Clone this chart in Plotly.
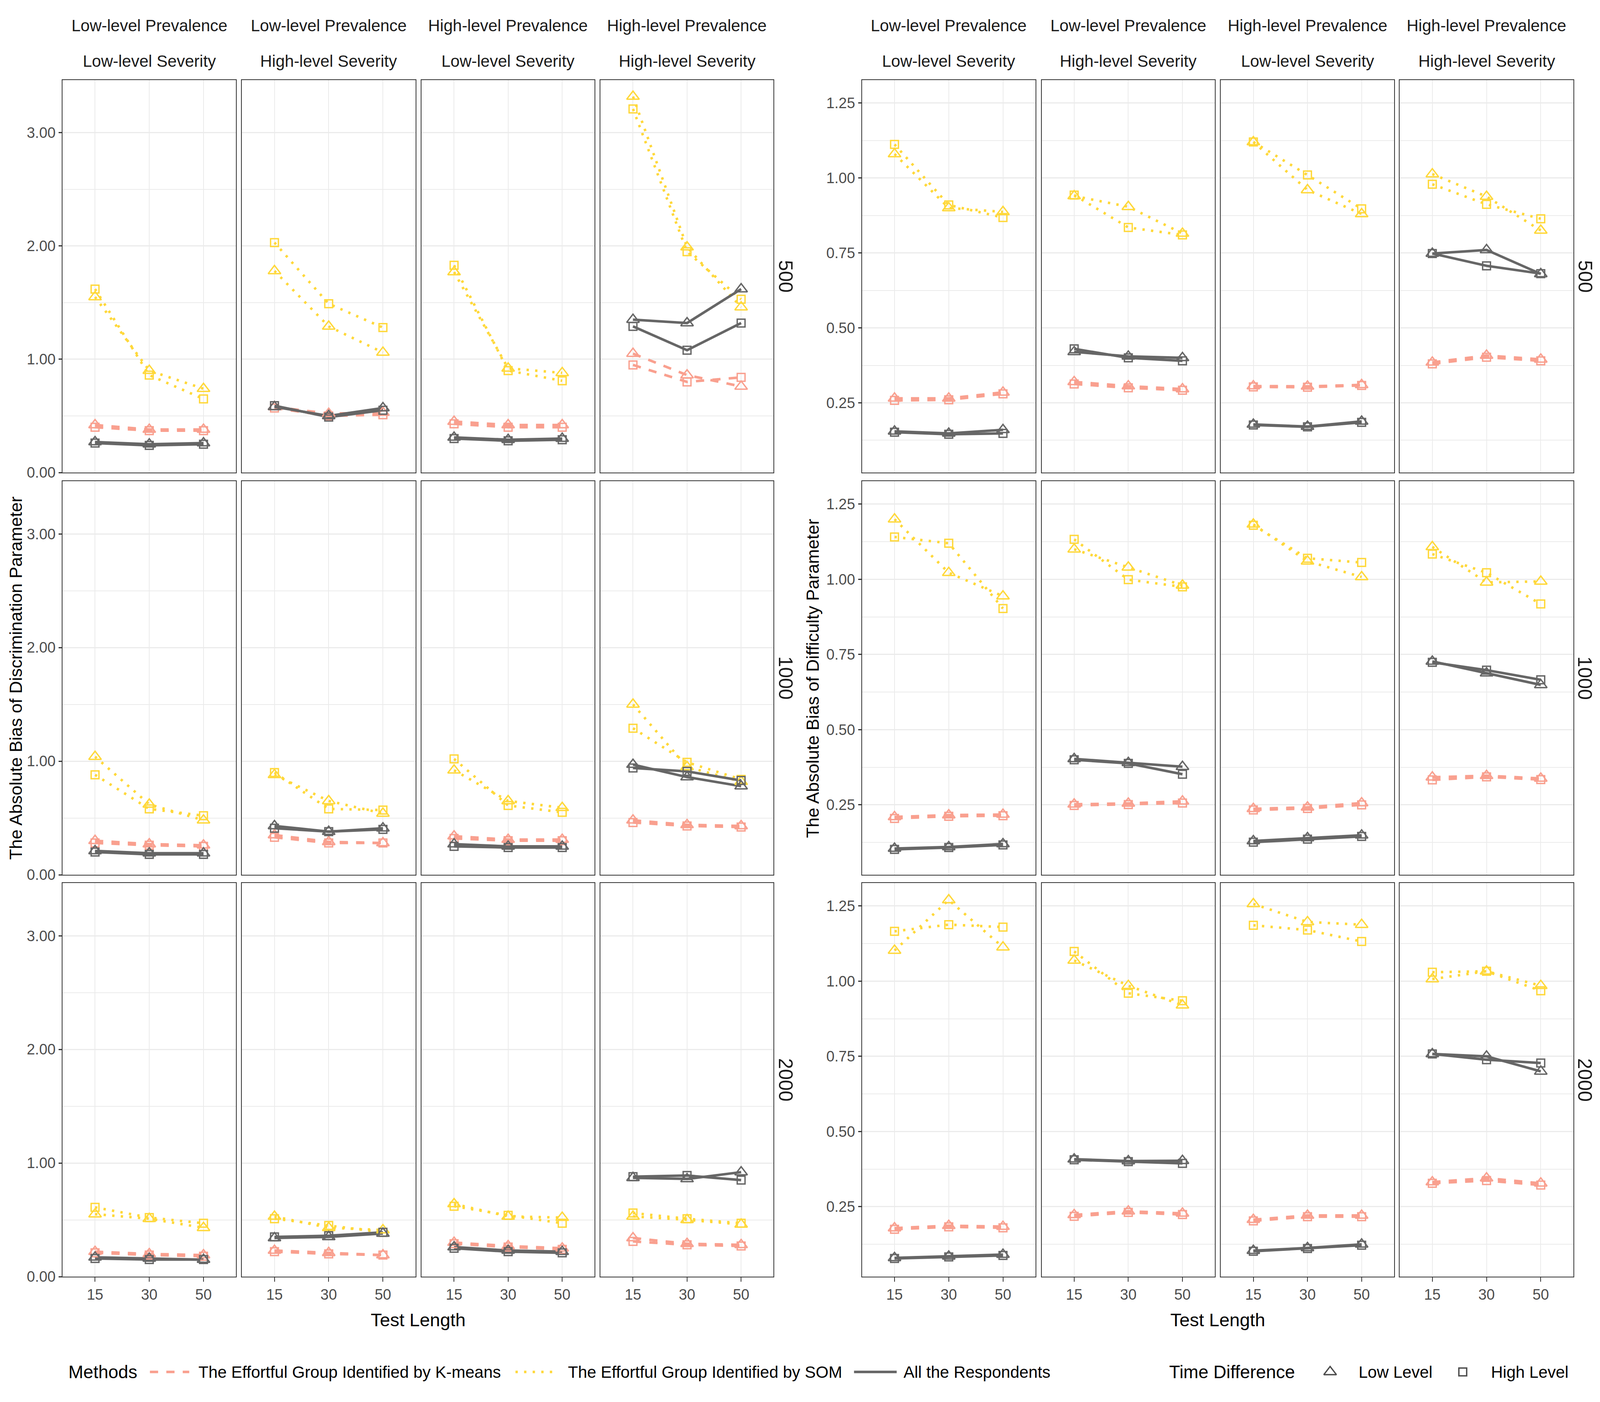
import plotly.graph_objects as go

# Reference picture size (px). The page viewport is narrower than the reference,
# so horizontal sizes are scaled; vertical positions map 1:1.
REF_W, REF_H = 6224, 3590
OFF_X, OFF_Y = 12, 8   # body margin expressed in reference px

TEST_LENGTHS = ["15", "30", "50"]
SAMPLE_SIZES = ["500", "1000", "2000"]
PREVALENCE = ["Low-level Prevalence", "Low-level Prevalence", "High-level Prevalence", "High-level Prevalence"]
SEVERITY = ["Low-level Severity", "High-level Severity", "Low-level Severity", "High-level Severity"]
METHODS = ["The Effortful Group Identified by K-means", "The Effortful Group Identified by SOM", "All the Respondents"]
TIME_DIFF = ["Low Level", "High Level"]
Y_TITLES = ["The Absolute Bias of Discrimination Parameter", "The Absolute Bias of Difficulty Parameter"]
X_TITLE = "Test Length"

# ---- Discrimination parameter: [sample size][condition][test length] ----
DISC_KMEANS_LOW = [
    [[0.42, 0.38, 0.38], [0.58, 0.52, 0.53], [0.45, 0.42, 0.42], [1.05, 0.86, 0.76]],
    [[0.30, 0.27, 0.26], [0.35, 0.29, 0.28], [0.34, 0.31, 0.31], [0.48, 0.44, 0.43]],
    [[0.22, 0.20, 0.19], [0.23, 0.21, 0.19], [0.30, 0.27, 0.25], [0.34, 0.29, 0.28]],
]
DISC_KMEANS_HIGH = [
    [[0.40, 0.37, 0.37], [0.57, 0.50, 0.51], [0.43, 0.40, 0.40], [0.95, 0.80, 0.84]],
    [[0.28, 0.26, 0.25], [0.33, 0.28, 0.28], [0.32, 0.30, 0.30], [0.46, 0.43, 0.42]],
    [[0.21, 0.19, 0.18], [0.22, 0.20, 0.19], [0.29, 0.26, 0.24], [0.31, 0.28, 0.27]],
]
DISC_SOM_LOW = [
    [[1.55, 0.90, 0.74], [1.78, 1.29, 1.06], [1.77, 0.92, 0.88], [3.32, 1.99, 1.46]],
    [[1.04, 0.62, 0.48], [0.88, 0.65, 0.54], [0.92, 0.65, 0.59], [1.50, 0.95, 0.82]],
    [[0.55, 0.51, 0.43], [0.53, 0.43, 0.41], [0.64, 0.53, 0.52], [0.53, 0.50, 0.46]],
]
DISC_SOM_HIGH = [
    [[1.62, 0.86, 0.65], [2.03, 1.49, 1.28], [1.83, 0.90, 0.81], [3.21, 1.95, 1.53]],
    [[0.88, 0.58, 0.52], [0.90, 0.58, 0.57], [1.02, 0.61, 0.55], [1.29, 0.99, 0.84]],
    [[0.61, 0.52, 0.47], [0.51, 0.45, 0.39], [0.62, 0.54, 0.47], [0.56, 0.51, 0.47]],
]
DISC_ALL_LOW = [
    [[0.27, 0.25, 0.26], [0.58, 0.50, 0.57], [0.31, 0.29, 0.30], [1.35, 1.32, 1.62]],
    [[0.21, 0.19, 0.19], [0.43, 0.38, 0.41], [0.27, 0.25, 0.25], [0.97, 0.86, 0.78]],
    [[0.17, 0.16, 0.15], [0.34, 0.35, 0.38], [0.26, 0.23, 0.22], [0.87, 0.86, 0.92]],
]
DISC_ALL_HIGH = [
    [[0.26, 0.24, 0.25], [0.59, 0.49, 0.55], [0.30, 0.28, 0.29], [1.29, 1.08, 1.32]],
    [[0.20, 0.18, 0.18], [0.41, 0.38, 0.40], [0.25, 0.24, 0.24], [0.94, 0.91, 0.83]],
    [[0.16, 0.15, 0.15], [0.35, 0.36, 0.39], [0.25, 0.22, 0.21], [0.88, 0.89, 0.85]],
]

# ---- Difficulty parameter: [sample size][condition][test length] ----
DIFF_KMEANS_LOW = [
    [[0.265, 0.265, 0.285], [0.320, 0.306, 0.296], [0.306, 0.305, 0.310], [0.385, 0.408, 0.395]],
    [[0.210, 0.216, 0.218], [0.252, 0.255, 0.262], [0.237, 0.242, 0.256], [0.342, 0.347, 0.338]],
    [[0.179, 0.187, 0.184], [0.223, 0.235, 0.228], [0.207, 0.221, 0.221], [0.332, 0.345, 0.328]],
]
DIFF_KMEANS_HIGH = [
    [[0.258, 0.260, 0.280], [0.313, 0.300, 0.292], [0.303, 0.302, 0.308], [0.380, 0.402, 0.390]],
    [[0.205, 0.212, 0.214], [0.248, 0.251, 0.256], [0.233, 0.238, 0.250], [0.333, 0.343, 0.334]],
    [[0.175, 0.183, 0.180], [0.218, 0.231, 0.224], [0.203, 0.217, 0.217], [0.328, 0.337, 0.322]],
]
DIFF_SOM_LOW = [
    [[1.080, 0.900, 0.887], [0.940, 0.904, 0.815], [1.120, 0.960, 0.880], [1.013, 0.938, 0.825]],
    [[1.200, 1.022, 0.944], [1.100, 1.040, 0.980], [1.183, 1.060, 1.008], [1.108, 0.990, 0.993]],
    [[1.102, 1.270, 1.113], [1.069, 0.985, 0.920], [1.257, 1.197, 1.188], [1.007, 1.033, 0.985]],
]
DIFF_SOM_HIGH = [
    [[1.112, 0.910, 0.868], [0.943, 0.835, 0.810], [1.120, 1.010, 0.897], [0.979, 0.912, 0.864]],
    [[1.141, 1.120, 0.903], [1.133, 0.999, 0.975], [1.180, 1.070, 1.056], [1.084, 1.022, 0.918]],
    [[1.166, 1.188, 1.180], [1.099, 0.960, 0.935], [1.186, 1.170, 1.132], [1.030, 1.033, 0.968]],
]
DIFF_ALL_LOW = [
    [[0.155, 0.148, 0.160], [0.420, 0.405, 0.400], [0.178, 0.171, 0.188], [0.748, 0.760, 0.680]],
    [[0.105, 0.110, 0.120], [0.403, 0.390, 0.377], [0.130, 0.140, 0.149], [0.727, 0.688, 0.649]],
    [[0.080, 0.085, 0.091], [0.408, 0.402, 0.403], [0.104, 0.113, 0.125], [0.758, 0.750, 0.700]],
]
DIFF_ALL_HIGH = [
    [[0.152, 0.145, 0.148], [0.430, 0.400, 0.390], [0.176, 0.170, 0.185], [0.748, 0.707, 0.681]],
    [[0.102, 0.108, 0.117], [0.400, 0.388, 0.352], [0.126, 0.136, 0.145], [0.724, 0.698, 0.666]],
    [[0.078, 0.083, 0.088], [0.406, 0.400, 0.394], [0.102, 0.111, 0.122], [0.758, 0.739, 0.728]],
]

PANELS = [
    {"data": [[DISC_KMEANS_LOW, DISC_KMEANS_HIGH], [DISC_SOM_LOW, DISC_SOM_HIGH], [DISC_ALL_LOW, DISC_ALL_HIGH]],
     "range": [0.0, 3.465], "dtick": 1.0, "minor": 0.5},
    {"data": [[DIFF_KMEANS_LOW, DIFF_KMEANS_HIGH], [DIFF_SOM_LOW, DIFF_SOM_HIGH], [DIFF_ALL_LOW, DIFF_ALL_HIGH]],
     "range": [0.0175, 1.3266], "dtick": 0.25, "minor": 0.125},
]

# ---- styling ----
FONT = "Liberation Sans, Arial, Helvetica, sans-serif"
COLORS = ["#F9A08F", "#FFD83A", "#666666"]
DASHES = ["21px,21px", "6px,16px", "solid"]
SYMBOLS = ["triangle-up-open", "square-open"]
SYM_SIZE = [28, 20]
LINE_W = 6.5
GRID = "#EBEBEB"
BORDER = "#333333"
TICK_FONT = dict(size=38, color="#4D4D4D", family=FONT)
STRIP_FONT = dict(size=42, color="#1A1A1A", family=FONT)
ROW_FONT = dict(size=50, color="#1A1A1A", family=FONT)
XTITLE_FONT = dict(size=47, color="black", family=FONT)
YTITLE_FONT = dict(size=45, color="black", family=FONT)
LEG_TITLE_FONT = dict(size=46, color="black", family=FONT)
LEG_FONT = dict(size=42, color="black", family=FONT)

PANEL_X = [
    [(243, 918), (941, 1616), (1640, 2313), (2336, 3009)],
    [(3353, 4028), (4052, 4726), (4749, 5423), (5445, 6120)],
]
ROW_Y = [(205, 1210), (1232, 2240), (2261, 3269)]
STRIP_X = [3055, 6165]
YTITLE_X = [60, 3160]


def px(x):
    return (x - OFF_X) / REF_W


def py(y):
    return 1 - (y - OFF_Y) / REF_H


fig = go.Figure()
layout = {}
annotations = []
shapes = []

for p, panel in enumerate(PANELS):
    for r in range(3):
        for c in range(4):
            k = p * 12 + r * 4 + c + 1
            xname = "x" if k == 1 else f"x{k}"
            yname = "y" if k == 1 else f"y{k}"
            x0, x1 = PANEL_X[p][c]
            y0, y1 = ROW_Y[r]
            bottom = r == 2
            left = c == 0
            layout["xaxis" if k == 1 else f"xaxis{k}"] = dict(
                domain=[px(x0), px(x1)], anchor=yname, type="category",
                categoryorder="array", categoryarray=TEST_LENGTHS,
                range=[-0.6, 2.6], showgrid=True, gridcolor=GRID, gridwidth=2,
                zeroline=False, showline=True, mirror=True, linecolor=BORDER, linewidth=2,
                ticks="outside" if bottom else "", ticklen=11, tickwidth=2, tickcolor=BORDER,
                showticklabels=bottom, tickfont=TICK_FONT,
            )
            layout["yaxis" if k == 1 else f"yaxis{k}"] = dict(
                domain=[py(y1), py(y0)], anchor=xname, range=panel["range"],
                tick0=0, dtick=panel["dtick"], tickformat=".2f",
                showgrid=True, gridcolor=GRID, gridwidth=3, zeroline=False,
                minor=dict(tick0=0, dtick=panel["minor"], showgrid=True, gridcolor=GRID, gridwidth=1.5),
                showline=True, mirror=True, linecolor=BORDER, linewidth=2,
                ticks="outside" if left else "", ticklen=8, tickwidth=2.5, tickcolor=BORDER,
                showticklabels=left, tickfont=TICK_FONT,
            )
            for m in range(3):
                for t in range(2):
                    fig.add_trace(go.Scatter(
                        x=TEST_LENGTHS, y=panel["data"][m][t][r][c], xaxis=xname, yaxis=yname,
                        mode="lines", showlegend=False, hoverinfo="skip",
                        line=dict(color=COLORS[m], width=LINE_W, dash=DASHES[m]),
                    ))
            for m in range(3):
                for t in range(2):
                    fig.add_trace(go.Scatter(
                        x=TEST_LENGTHS, y=panel["data"][m][t][r][c], xaxis=xname, yaxis=yname,
                        mode="markers", showlegend=False,
                        name=f"{METHODS[m]} - {TIME_DIFF[t]}",
                        marker=dict(symbol=SYMBOLS[t], size=SYM_SIZE[t], color=COLORS[m],
                                    line=dict(color=COLORS[m], width=3.5)),
                    ))
            if r == 0:
                cx = px((x0 + x1) / 2)
                annotations.append(dict(text=PREVALENCE[c], x=cx, y=py(65), xref="paper", yref="paper",
                                        showarrow=False, xanchor="center", yanchor="middle", font=STRIP_FONT))
                annotations.append(dict(text=SEVERITY[c], x=cx, y=py(157), xref="paper", yref="paper",
                                        showarrow=False, xanchor="center", yanchor="middle", font=STRIP_FONT))
        annotations.append(dict(text=SAMPLE_SIZES[r], x=px(STRIP_X[p]), y=py((ROW_Y[r][0] + ROW_Y[r][1]) / 2),
                                xref="paper", yref="paper", showarrow=False, textangle=90,
                                xanchor="center", yanchor="middle", font=ROW_FONT))
    annotations.append(dict(text=Y_TITLES[p], x=px(YTITLE_X[p]), y=py((ROW_Y[0][0] + ROW_Y[2][1]) / 2),
                            xref="paper", yref="paper", showarrow=False, textangle=-90,
                            xanchor="center", yanchor="middle", font=YTITLE_FONT))
    annotations.append(dict(text=X_TITLE, x=px((PANEL_X[p][0][0] + PANEL_X[p][3][1]) / 2), y=py(3379),
                            xref="paper", yref="paper", showarrow=False,
                            xanchor="center", yanchor="middle", font=XTITLE_FONT))

# ---- legend (keys + text along the bottom) ----
LEG_Y = py(3513)
annotations.append(dict(text="Methods", x=px(262), y=LEG_Y, xref="paper", yref="paper", showarrow=False,
                        xanchor="left", yanchor="middle", font=LEG_TITLE_FONT))
KEY_X = [(583, 736), (2005, 2160), (3322, 3488)]
LABEL_X = [768, 2206, 3512]
for m in range(3):
    shapes.append(dict(type="line", xref="paper", yref="paper",
                       x0=px(KEY_X[m][0]), x1=px(KEY_X[m][1]), y0=LEG_Y, y1=LEG_Y,
                       line=dict(color=COLORS[m], width=LINE_W, dash=DASHES[m])))
    annotations.append(dict(text=METHODS[m], x=px(LABEL_X[m]), y=LEG_Y, xref="paper", yref="paper",
                            showarrow=False, xanchor="left", yanchor="middle", font=LEG_FONT))

annotations.append(dict(text="Time Difference", x=px(4545), y=LEG_Y, xref="paper", yref="paper", showarrow=False,
                        xanchor="left", yanchor="middle", font=LEG_TITLE_FONT))
SYM_X = [5174, 5690]
TD_LABEL_X = [5282, 5797]
fig.add_trace(go.Scatter(
    x=[px(v) for v in SYM_X], y=[LEG_Y, LEG_Y], xaxis="x25", yaxis="y25", mode="markers",
    showlegend=False, hoverinfo="skip",
    marker=dict(symbol=SYMBOLS, size=SYM_SIZE, color="black", line=dict(color="black", width=3.5)),
))
layout["xaxis25"] = dict(domain=[0, 1], range=[0, 1], visible=False, anchor="y25", fixedrange=True)
layout["yaxis25"] = dict(domain=[0, 1], range=[0, 1], visible=False, anchor="x25", fixedrange=True)
for t in range(2):
    annotations.append(dict(text=TIME_DIFF[t], x=px(TD_LABEL_X[t]), y=LEG_Y, xref="paper", yref="paper",
                            showarrow=False, xanchor="left", yanchor="middle", font=LEG_FONT))

fig.update_layout(
    autosize=True, margin=dict(l=0, r=0, t=0, b=0, autoexpand=False),
    plot_bgcolor="rgba(0,0,0,0)", paper_bgcolor="white",
    font=dict(family=FONT), showlegend=False,
    annotations=annotations, shapes=shapes, **layout,
)

fig.write_html("out.html", default_width="100vw", default_height="100vh")
